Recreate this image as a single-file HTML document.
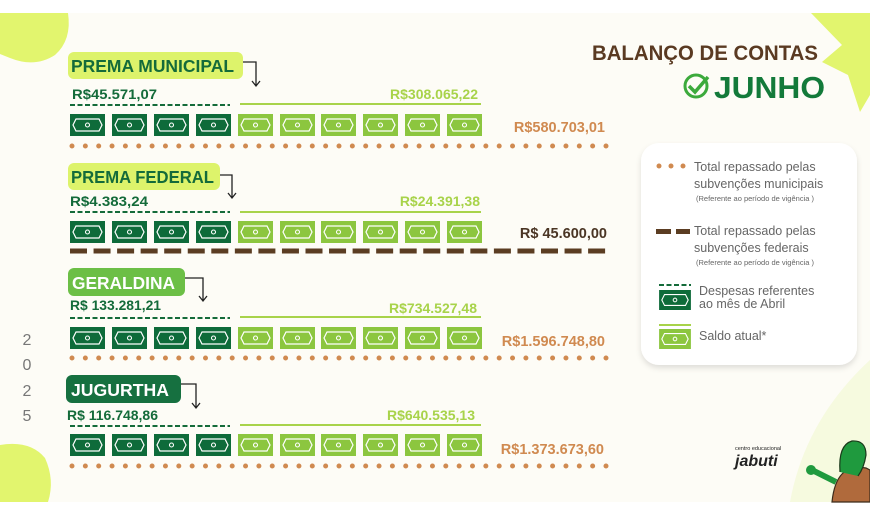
<!DOCTYPE html>
<html><head><meta charset="utf-8"><style>
html,body{margin:0;padding:0;background:#fff;}
svg{display:block;}
text{font-family:"Liberation Sans",sans-serif;}
</style></head><body>
<svg width="870" height="515" viewBox="0 0 870 515" xmlns="http://www.w3.org/2000/svg">
<defs>
<symbol id="bd" viewBox="0 0 35 22"><rect width="35" height="22" fill="#0e6b3a"/><path d="M6 5 H29 L32 11 L29 17 H6 L3 11 Z" fill="none" stroke="#fff" stroke-width="1.2"/><circle cx="17.5" cy="11" r="2" fill="none" stroke="#fff" stroke-width="1.1"/></symbol>
<symbol id="bl" viewBox="0 0 35 22"><rect width="35" height="22" fill="#8cc63f"/><path d="M6 5 H29 L32 11 L29 17 H6 L3 11 Z" fill="none" stroke="#fff" stroke-width="1.2"/><circle cx="17.5" cy="11" r="2" fill="none" stroke="#fff" stroke-width="1.1"/></symbol>
<g id="bills">
<use href="#bd" x="70" y="0" width="35" height="22"/><use href="#bd" x="112" y="0" width="35" height="22"/><use href="#bd" x="154" y="0" width="35" height="22"/><use href="#bd" x="196" y="0" width="35" height="22"/>
<use href="#bl" x="238" y="0" width="35" height="22"/><use href="#bl" x="280" y="0" width="35" height="22"/><use href="#bl" x="321" y="0" width="35" height="22"/><use href="#bl" x="363" y="0" width="35" height="22"/><use href="#bl" x="405" y="0" width="35" height="22"/><use href="#bl" x="447" y="0" width="35" height="22"/>
</g>
<filter id="sh" x="-10%" y="-10%" width="120%" height="130%"><feDropShadow dx="0" dy="3" stdDeviation="3" flood-color="#000" flood-opacity="0.12"/></filter>
</defs>
<rect x="0" y="13" width="870" height="489" fill="#fdfcf6"/>
<!-- decorations -->
<path d="M0 13 H68 Q72 40 55 55 Q35 68 10 58 L0 54 Z" fill="#e2f56e"/>
<path d="M811 13 L870 13 L870 95 L860 112 L848 75 L822 62 L842 45 Z" fill="#e2f56e"/>
<path d="M0 445 Q30 440 45 458 Q55 480 48 502 H0 Z" fill="#e2f56e"/>
<path d="M790 502 Q805 420 870 360 V502 Z" fill="#f6fadf"/>
<!-- title -->
<text x="592" y="60" font-size="21" font-weight="bold" fill="#5a3a22" textLength="226" lengthAdjust="spacingAndGlyphs">BALANÇO DE CONTAS</text>
<circle cx="696" cy="86" r="11" fill="none" stroke="#3caa3c" stroke-width="3"/>
<path d="M689 86 L695 92 L708 77" fill="none" stroke="#3caa3c" stroke-width="3.5"/>
<text x="714" y="98" font-size="31" font-weight="bold" fill="#137a3a" textLength="111" lengthAdjust="spacingAndGlyphs">JUNHO</text>

<!-- row1 -->
<rect x="68" y="52" width="175" height="27" rx="6" fill="#ddf36b"/>
<text x="71" y="72" font-size="17.5" font-weight="bold" fill="#146b3a" textLength="163" lengthAdjust="spacingAndGlyphs">PREMA MUNICIPAL</text>
<path d="M243 62 H256 V86 M252 81 L256 86 L260 81" fill="none" stroke="#222" stroke-width="1.3"/>
<text x="72" y="99" font-size="14" font-weight="bold" fill="#146b3a" textLength="85" lengthAdjust="spacingAndGlyphs">R$45.571,07</text>
<text x="478" y="99" font-size="14" font-weight="bold" fill="#a8d34a" text-anchor="end">R$308.065,22</text>
<line x1="70" y1="105" x2="230" y2="105" stroke="#146b3a" stroke-width="2" stroke-dasharray="5 2.5"/>
<line x1="240" y1="104" x2="481" y2="104" stroke="#a8d34a" stroke-width="2"/>
<use href="#bills" y="114"/>
<text x="605" y="132" font-size="14.5" font-weight="bold" fill="#d08a50" text-anchor="end">R$580.703,01</text>
<line x1="72" y1="146" x2="610" y2="146" stroke="#d08a50" stroke-width="5" stroke-linecap="round" stroke-dasharray="0 13.35"/>

<!-- row2 -->
<rect x="68" y="163" width="152" height="27" rx="6" fill="#ddf36b"/>
<text x="71" y="183" font-size="17.5" font-weight="bold" fill="#146b3a" textLength="143" lengthAdjust="spacingAndGlyphs">PREMA FEDERAL</text>
<path d="M220 175 H232 V198 M228 193 L232 198 L236 193" fill="none" stroke="#222" stroke-width="1.3"/>
<text x="70" y="206" font-size="14" font-weight="bold" fill="#146b3a" textLength="78" lengthAdjust="spacingAndGlyphs">R$4.383,24</text>
<text x="480" y="206" font-size="14" font-weight="bold" fill="#a8d34a" text-anchor="end">R$24.391,38</text>
<line x1="70" y1="212" x2="230" y2="212" stroke="#146b3a" stroke-width="2" stroke-dasharray="5 2.5"/>
<line x1="240" y1="212" x2="481" y2="212" stroke="#a8d34a" stroke-width="2"/>
<use href="#bills" y="221"/>
<text x="607" y="238" font-size="14.5" font-weight="bold" fill="#4a3524" text-anchor="end">R$ 45.600,00</text>
<line x1="70" y1="251" x2="607" y2="251" stroke="#5b3d22" stroke-width="5" stroke-dasharray="17 6.55"/>

<!-- row3 -->
<rect x="68" y="268" width="117" height="28" rx="6" fill="#6cbf46"/>
<text x="72" y="289" font-size="17.5" font-weight="bold" fill="#fff" textLength="103" lengthAdjust="spacingAndGlyphs">GERALDINA</text>
<path d="M185 278 H203 V301 M199 296 L203 301 L207 296" fill="none" stroke="#222" stroke-width="1.3"/>
<text x="70" y="310" font-size="14" font-weight="bold" fill="#146b3a" textLength="91" lengthAdjust="spacingAndGlyphs">R$ 133.281,21</text>
<text x="477" y="313" font-size="14" font-weight="bold" fill="#a8d34a" text-anchor="end">R$734.527,48</text>
<line x1="70" y1="318" x2="230" y2="318" stroke="#146b3a" stroke-width="2" stroke-dasharray="5 2.5"/>
<line x1="240" y1="317" x2="481" y2="317" stroke="#a8d34a" stroke-width="2"/>
<use href="#bills" y="327"/>
<text x="605" y="346" font-size="14.5" font-weight="bold" fill="#d08a50" text-anchor="end">R$1.596.748,80</text>
<line x1="72" y1="358" x2="610" y2="358" stroke="#d08a50" stroke-width="5" stroke-linecap="round" stroke-dasharray="0 13.35"/>

<!-- row4 -->
<rect x="66" y="375" width="115" height="28" rx="6" fill="#167040"/>
<text x="71" y="396" font-size="17.5" font-weight="bold" fill="#fff" textLength="98" lengthAdjust="spacingAndGlyphs">JUGURTHA</text>
<path d="M181 384 H196 V408 M192 403 L196 408 L200 403" fill="none" stroke="#222" stroke-width="1.3"/>
<text x="67" y="420" font-size="14" font-weight="bold" fill="#146b3a" textLength="91" lengthAdjust="spacingAndGlyphs">R$ 116.748,86</text>
<text x="475" y="420" font-size="14" font-weight="bold" fill="#a8d34a" text-anchor="end">R$640.535,13</text>
<line x1="70" y1="426" x2="230" y2="426" stroke="#146b3a" stroke-width="2" stroke-dasharray="5 2.5"/>
<line x1="240" y1="425" x2="481" y2="425" stroke="#a8d34a" stroke-width="2"/>
<use href="#bills" y="434"/>
<text x="604" y="454" font-size="14.5" font-weight="bold" fill="#d08a50" text-anchor="end">R$1.373.673,60</text>
<line x1="72" y1="466" x2="610" y2="466" stroke="#d08a50" stroke-width="5" stroke-linecap="round" stroke-dasharray="0 13.35"/>

<!-- year -->
<g font-size="16" fill="#777" text-anchor="middle">
<text x="27" y="345">2</text><text x="27" y="370">0</text><text x="27" y="396">2</text><text x="27" y="421">5</text>
</g>

<!-- legend -->
<rect x="641" y="143" width="216" height="222" rx="18" fill="#fff" filter="url(#sh)"/>
<g fill="#d08a50"><circle cx="659" cy="166" r="2.5"/><circle cx="671" cy="166" r="2.5"/><circle cx="683" cy="166" r="2.5"/></g>
<text x="694" y="171" font-size="12.5" fill="#666">Total repassado pelas</text>
<text x="694" y="188" font-size="12.5" fill="#666">subvenções municipais</text>
<text x="696" y="201" font-size="7.5" fill="#666">(Referente ao período de vigência )</text>
<rect x="656" y="229" width="15" height="5" fill="#5b3d22"/><rect x="676" y="229" width="14" height="5" fill="#5b3d22"/>
<text x="694" y="235" font-size="12.5" fill="#666">Total repassado pelas</text>
<text x="694" y="252" font-size="12.5" fill="#666">subvenções federais</text>
<text x="696" y="265" font-size="7.5" fill="#666">(Referente ao período de vigência )</text>
<line x1="659" y1="285" x2="691" y2="285" stroke="#146b3a" stroke-width="2" stroke-dasharray="5 2.5"/>
<use href="#bd" x="658" y="290" width="34" height="20"/>
<text x="699" y="295" font-size="12.5" fill="#666">Despesas referentes</text>
<text x="699" y="308" font-size="12.5" fill="#666">ao mês de Abril</text>
<line x1="659" y1="325" x2="691" y2="325" stroke="#a8d34a" stroke-width="2"/>
<use href="#bl" x="658" y="329" width="34" height="20"/>
<text x="699" y="340" font-size="12.5" fill="#666">Saldo atual*</text>

<!-- logo -->
<text x="735" y="450" font-size="5.5" fill="#222">centro educacional</text>
<text x="735" y="466" font-size="16" font-weight="bold" fill="#222" font-style="italic">jabuti</text>
<!-- turtle -->
<path d="M832 502 Q836 462 866 468 L870 470 V502 Z" fill="#b06a3c" stroke="#3a2a1a" stroke-width="1.2"/>
<path d="M840 472 Q838 445 852 441 Q866 440 866 455 Q864 468 858 476" fill="#1f9a3e" stroke="#1a3a1a" stroke-width="1.2"/>
<path d="M836 482 Q822 475 812 470" stroke="#1f9a3e" stroke-width="6" fill="none"/>
<circle cx="811" cy="470" r="5" fill="#1f9a3e"/>
</svg>
</body></html>
